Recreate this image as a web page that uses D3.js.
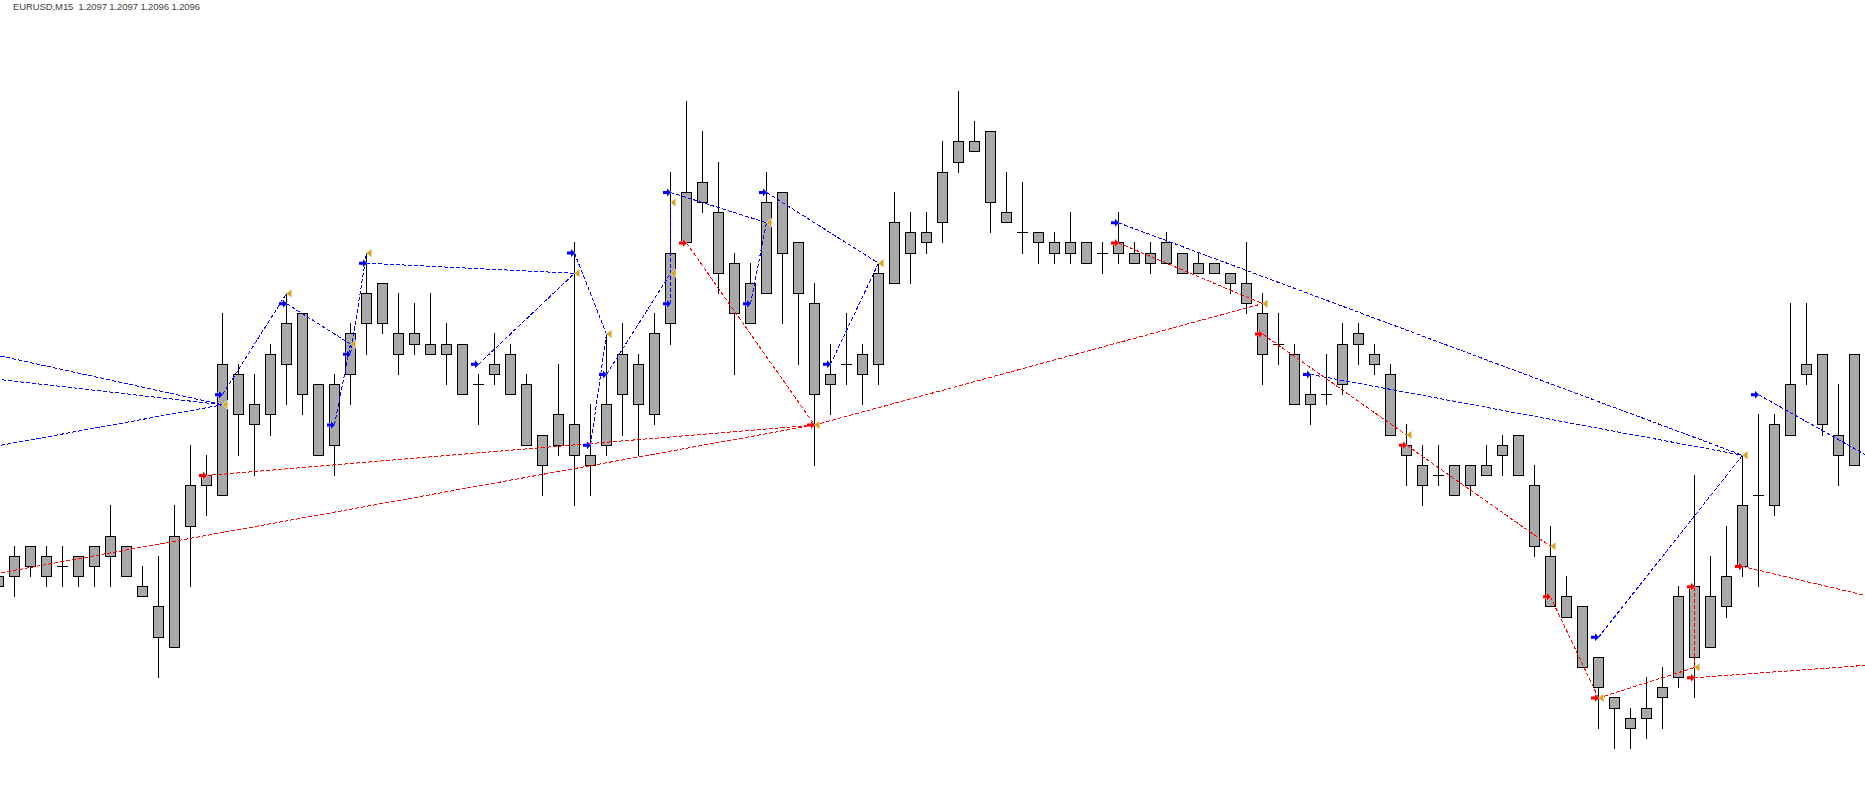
<!DOCTYPE html>
<html><head><meta charset="utf-8">
<script src="https://cdn.jsdelivr.net/npm/d3@7"></script>
<style>html,body{margin:0;padding:0;background:#fff;overflow:hidden}</style>
</head><body><svg id="c" width="1865" height="807"></svg>
<script>
const symbol = "EURUSD", timeframe = "M15";
const lastQuote = [1.2097, 1.2097, 1.2096, 1.2096];

const opens = [1.2058,1.2059,1.2060,1.2061,1.2060,1.2061,1.2060,1.2061,1.2062,1.2058,
1.2056,1.2052,1.2064,1.2068,1.2067,1.2079,1.2076,1.2075,1.2080,1.2085,
1.2078,1.2072,1.2079,1.2084,1.2088,1.2083,1.2082,1.2082,1.2081,1.2082,
1.2078,1.2079,1.2081,1.2078,1.2073,1.2072,1.2074,1.2071,1.2072,1.2077,
1.2080,1.2075,1.2084,1.2092,1.2096,1.2095,1.2090,1.2084,1.2087,1.2097,
1.2092,1.2086,1.2078,1.2080,1.2079,1.2080,1.2088,1.2093,1.2092,1.2094,
1.2100,1.2102,1.2103,1.2095,1.2093,1.2093,1.2092,1.2091,1.2092,1.2091,
1.2091,1.2091,1.2090,1.2092,1.2091,1.2089,1.2090,1.2089,1.2088,1.2085,
1.2082,1.2081,1.2076,1.2077,1.2078,1.2082,1.2081,1.2079,1.2072,1.2070,
1.2069,1.2070,1.2068,1.2070,1.2071,1.2073,1.2068,1.2061,1.2057,1.2056,
1.2051,1.2047,1.2045,1.2045,1.2047,1.2049,1.2058,1.2052,1.2056,1.2060,
1.2067,1.2066,1.2073,1.2079,1.2081,1.2073,1.2070];
const highs = [1.2060,1.2062,1.2062,1.2062,1.2062,1.2061,1.2062,1.2066,1.2062,1.2060,
1.2061,1.2066,1.2072,1.2071,1.2085,1.2080,1.2079,1.2082,1.2087,1.2085,
1.2078,1.2079,1.2084,1.2091,1.2088,1.2087,1.2086,1.2087,1.2084,1.2082,
1.2079,1.2083,1.2082,1.2079,1.2073,1.2080,1.2092,1.2076,1.2083,1.2084,
1.2081,1.2085,1.2099,1.2106,1.2103,1.2100,1.2091,1.2090,1.2099,1.2097,
1.2092,1.2088,1.2082,1.2085,1.2082,1.2090,1.2097,1.2095,1.2095,1.2102,
1.2107,1.2104,1.2103,1.2099,1.2098,1.2093,1.2093,1.2095,1.2092,1.2092,
1.2095,1.2092,1.2092,1.2093,1.2091,1.2091,1.2090,1.2089,1.2092,1.2087,
1.2085,1.2082,1.2079,1.2081,1.2084,1.2084,1.2082,1.2080,1.2074,1.2072,
1.2072,1.2070,1.2070,1.2072,1.2073,1.2073,1.2070,1.2064,1.2059,1.2056,
1.2051,1.2047,1.2046,1.2049,1.2050,1.2058,1.2069,1.2061,1.2064,1.2071,
1.2075,1.2075,1.2086,1.2086,1.2081,1.2078,1.2081];
const lows = [1.2057,1.2057,1.2059,1.2058,1.2058,1.2058,1.2058,1.2058,1.2059,1.2057,
1.2049,1.2052,1.2058,1.2065,1.2067,1.2071,1.2069,1.2073,1.2076,1.2075,
1.2071,1.2069,1.2076,1.2081,1.2083,1.2079,1.2081,1.2081,1.2078,1.2077,
1.2074,1.2078,1.2077,1.2072,1.2067,1.2071,1.2066,1.2067,1.2071,1.2073,
1.2071,1.2074,1.2082,1.2092,1.2095,1.2087,1.2079,1.2084,1.2087,1.2084,
1.2080,1.2070,1.2075,1.2078,1.2076,1.2078,1.2088,1.2088,1.2091,1.2092,
1.2099,1.2101,1.2093,1.2094,1.2091,1.2090,1.2090,1.2090,1.2090,1.2089,
1.2090,1.2090,1.2089,1.2090,1.2089,1.2089,1.2089,1.2087,1.2085,1.2078,
1.2080,1.2076,1.2074,1.2076,1.2077,1.2080,1.2079,1.2073,1.2068,1.2066,
1.2068,1.2067,1.2067,1.2069,1.2069,1.2069,1.2061,1.2056,1.2055,1.2050,
1.2044,1.2042,1.2042,1.2043,1.2044,1.2048,1.2047,1.2052,1.2055,1.2059,
1.2058,1.2065,1.2073,1.2078,1.2073,1.2068,1.2070];
const closes = [1.2059,1.2061,1.2062,1.2059,1.2060,1.2059,1.2062,1.2063,1.2059,1.2057,
1.2053,1.2063,1.2068,1.2069,1.2080,1.2075,1.2074,1.2081,1.2084,1.2077,
1.2071,1.2078,1.2083,1.2087,1.2084,1.2081,1.2083,1.2081,1.2082,1.2077,
1.2078,1.2080,1.2077,1.2072,1.2070,1.2075,1.2071,1.2070,1.2076,1.2081,
1.2076,1.2083,1.2091,1.2097,1.2098,1.2089,1.2085,1.2088,1.2096,1.2091,
1.2087,1.2077,1.2079,1.2080,1.2081,1.2089,1.2094,1.2091,1.2093,1.2099,
1.2102,1.2101,1.2096,1.2094,1.2093,1.2092,1.2091,1.2092,1.2090,1.2091,
1.2092,1.2090,1.2091,1.2090,1.2089,1.2090,1.2089,1.2088,1.2086,1.2081,
1.2082,1.2076,1.2077,1.2077,1.2082,1.2083,1.2080,1.2073,1.2071,1.2068,
1.2069,1.2067,1.2070,1.2069,1.2072,1.2069,1.2062,1.2056,1.2055,1.2050,
1.2048,1.2046,1.2044,1.2046,1.2048,1.2057,1.2051,1.2057,1.2059,1.2066,
1.2067,1.2074,1.2078,1.2080,1.2074,1.2071,1.2081];

// trend segments: [fromBar, fromPrice, toBar, toPrice]
const blueLines = [
  [-5,1.20826,14,1.2076],[-5,1.20794,14,1.2076],[-5,1.20705,14,1.2076],
  [14,1.2077,18,1.2087],[18,1.2086,22,1.2082],[21,1.2074,22,1.2082],
  [22,1.2081,23,1.2091],[23,1.2090,36,1.2089],[30,1.2080,36,1.2089],
  [36,1.2091,38,1.2083],[37,1.2072,38,1.2083],[38,1.2079,42,1.2089],
  [42,1.2086,42,1.2096],[42,1.2097,48,1.2094],[47,1.2086,48,1.2094],
  [48,1.2097,55,1.2090],[52,1.2080,55,1.2090],[70,1.2094,109,1.2071],
  [82,1.2079,109,1.2071],[100,1.2053,109,1.2071],[110,1.2077,120,1.20681]
];
const redLines = [
  [-5,1.20579,51,1.2074],[13,1.2069,51,1.2074],[43,1.2092,51,1.2074],
  [51,1.2074,79,1.2086],[70,1.2092,79,1.2086],[79,1.2083,88,1.2073],
  [88,1.2072,97,1.2062],[97,1.2057,100,1.2047],[100,1.2047,106,1.2050],
  [106,1.2058,106,1.2050],[106,1.2049,120,1.20506],[109,1.2060,120,1.20559]
];

const W = 1865, H = 807;
const nBars = opens.length;
const x = d3.scaleLinear().domain([0, nBars - 1]).range([-2, 1854]);
const y = d3.scaleLinear().domain([1.2040, 1.2110]).range([768.7, 61.0]);
const row = p => Math.floor(y(p) + 1e-6);
const cx = i => Math.round(x(i));

const svg = d3.select('#c');
svg.append('rect').attr('width', W).attr('height', H).attr('fill', '#fff');

const bars = d3.range(nBars).map(i => ({i, o: opens[i], h: highs[i], l: lows[i], c: closes[i]}));
const cg = svg.append('g').attr('shape-rendering', 'crispEdges');

cg.selectAll('line.wick').data(bars).join('line').attr('class', 'wick')
  .attr('x1', d => cx(d.i) + 0.5).attr('x2', d => cx(d.i) + 0.5)
  .attr('y1', d => row(d.h)).attr('y2', d => row(d.l) + 1)
  .attr('stroke', '#000').attr('stroke-width', 1);

const bodies = bars.filter(d => row(Math.max(d.o, d.c)) !== row(Math.min(d.o, d.c)));
const dojis = bars.filter(d => row(Math.max(d.o, d.c)) === row(Math.min(d.o, d.c)));

cg.selectAll('rect.body').data(bodies).join('rect').attr('class', 'body')
  .attr('x', d => cx(d.i) - 4.5).attr('width', 10)
  .attr('y', d => row(Math.max(d.o, d.c)) + 0.5)
  .attr('height', d => row(Math.min(d.o, d.c)) - row(Math.max(d.o, d.c)))
  .attr('fill', '#a9a9a9').attr('stroke', '#000').attr('stroke-width', 1);

cg.selectAll('line.doji').data(dojis).join('line').attr('class', 'doji')
  .attr('x1', d => cx(d.i) - 5).attr('x2', d => cx(d.i) + 6)
  .attr('y1', d => row(d.o) + 0.5).attr('y2', d => row(d.o) + 0.5)
  .attr('stroke', '#000').attr('stroke-width', 1);

function drawSegs(data, color) {
  svg.append('g').attr('shape-rendering', 'crispEdges')
    .selectAll('line').data(data).join('line')
    .attr('x1', d => x(d[0]) + 0.5).attr('y1', d => y(d[1]))
    .attr('x2', d => x(d[2]) + 0.5).attr('y2', d => y(d[3]))
    .attr('stroke', color).attr('stroke-width', 1)
    .attr('stroke-dasharray', '4,2');
}
drawSegs(blueLines, '#0000ff');
drawSegs(redLines, '#ff0000');

const arrowPath = 'M0,0 L-4,-4 L-4,-1.5 L-8,-1.5 L-8,1.5 L-4,1.5 L-4,4 Z';
const triPath = 'M0,0 L5,-4 L5,4 Z';
const mg = svg.append('g');
function arrows(data, color) {
  mg.append('g').selectAll('path').data(data.filter(d => d[0] >= 0 && d[0] < nBars)).join('path')
    .attr('transform', d => `translate(${x(d[0]) + 1},${y(d[1])})`)
    .attr('d', arrowPath).attr('fill', color)
    .attr('stroke', '#fff').attr('stroke-width', 0.8).style('paint-order', 'stroke');
}
function triangles(data) {
  mg.append('g').selectAll('path').data(data.filter(d => d[2] >= 0 && d[2] < nBars)).join('path')
    .attr('transform', d => `translate(${x(d[2]) + 0.5},${y(d[3])})`)
    .attr('d', triPath).attr('fill', '#daa520')
    .attr('stroke', '#fff').attr('stroke-width', 0.8).style('paint-order', 'stroke');
}
triangles(blueLines);
triangles(redLines);
arrows(blueLines, '#0000ff');
arrows(redLines, '#ff0000');

svg.append('text').attr('x', 13).attr('y', 10)
  .attr('font-family', 'Liberation Sans, Arial, sans-serif').attr('font-size', 9.5)
  .attr('fill', '#444').style('white-space', 'pre')
  .attr('textLength', 187).attr('lengthAdjust', 'spacing')
  .text(`${symbol},${timeframe}  ${lastQuote.map(v => v.toFixed(4)).join(' ')}`);
</script></body></html>
